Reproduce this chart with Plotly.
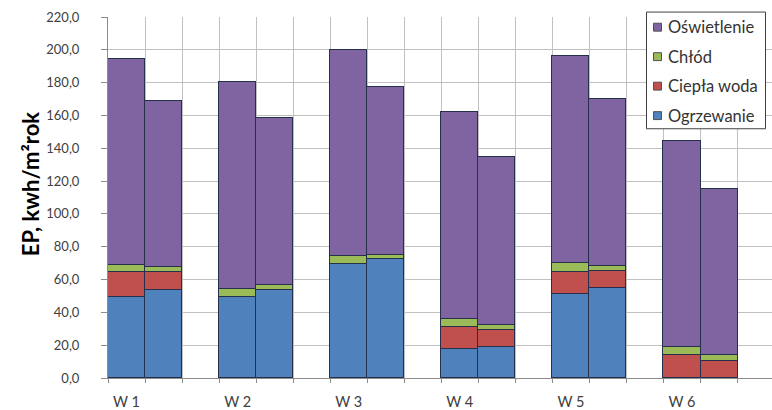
import plotly.graph_objects as go

# Energy demand per variant: two bars per variant (a, b)
groups = ["W 1", "W 2", "W 3", "W 4", "W 5", "W 6"]

ogrzewanie_a = [49.6, 49.4, 69.2, 17.4, 51.1, 0.0]
ogrzewanie_b = [53.5, 53.5, 72.3, 18.8, 54.8, 0.0]
ciepla_woda_a = [14.7, 0.0, 0.0, 13.8, 13.8, 13.8]
ciepla_woda_b = [10.8, 0.0, 0.0, 10.6, 10.7, 10.4]
chlod_a = [4.5, 5.0, 5.0, 5.0, 5.1, 5.0]
chlod_b = [3.3, 3.3, 2.8, 3.0, 2.7, 3.4]
oswietlenie_a = [125.8, 125.8, 125.8, 126.1, 126.2, 125.9]
oswietlenie_b = [101.5, 101.8, 102.3, 102.1, 102.1, 101.5]

series = [
    ("Ogrzewanie", ogrzewanie_a, ogrzewanie_b, "#4F81BD"),
    ("Ciepła woda", ciepla_woda_a, ciepla_woda_b, "#C0504D"),
    ("Chłód", chlod_a, chlod_b, "#9BBB59"),
    ("Oświetlenie", oswietlenie_a, oswietlenie_b, "#8064A2"),
]

# figure geometry (pixels)
W, H = 772, 410
ML, MR, MT, MB = 108, 0, 17, 28
PW, PH = W - ML - MR, H - MT - MB


def px_x(px):
    return (px - ML) / PW


def px_y(py):
    return (H - MB - py) / PH


# slot layout: two adjacent bars per group, one empty slot between groups
n = len(groups)
x_pos = []
for g in range(n):
    x_pos += [3 * g, 3 * g + 1]
label_pos = [3 * g for g in range(n)]

FONT = "Lato, 'Open Sans', sans-serif"

fig = go.Figure()
for name, a, b, color in series:
    vals = []
    for va, vb in zip(a, b):
        vals += [va, vb]
    fig.add_trace(go.Bar(
        x=x_pos, y=vals, name=name, width=1.0, showlegend=False,
        marker=dict(color=color, line=dict(color="#26304a", width=1)),
    ))

# boxed legend, top entry = top of the stack
shapes = [dict(
    type="rect", xref="paper", yref="paper",
    x0=px_x(646.5), x1=px_x(765.5), y0=px_y(130), y1=px_y(12),
    fillcolor="white", line=dict(color="#404040", width=1), layer="above",
)]
annotations = []
for k, (name, _a, _b, color) in enumerate(reversed(series)):
    cy = 27.3 + 29.8 * k
    shapes.append(dict(
        type="rect", xref="paper", yref="paper",
        x0=px_x(653.5), x1=px_x(661.5), y0=px_y(cy + 4), y1=px_y(cy - 4),
        fillcolor=color, line=dict(color="#505050", width=1), layer="above",
    ))
    annotations.append(dict(
        text=name, xref="paper", yref="paper", x=px_x(666), y=px_y(cy),
        xanchor="left", yanchor="middle", showarrow=False,
        font=dict(family=FONT, size=16.5, color="#333333"),
    ))

annotations.append(dict(
    text="<b>EP, kwh/m²rok</b>", textangle=-90,
    xref="paper", yref="paper", x=px_x(30), y=px_y(186),
    xanchor="center", yanchor="middle", showarrow=False,
    font=dict(family=FONT, size=22, color="black"),
))

fig.update_layout(
    width=W, height=H,
    margin=dict(l=ML, r=MR, t=MT, b=MB),
    paper_bgcolor="white", plot_bgcolor="white",
    barmode="stack", bargap=0,
    separators=", ",
    font=dict(family=FONT, size=13, color="#404040"),
    showlegend=False,
    xaxis=dict(
        range=[-0.5, 17.43],
        tickmode="array", tickvals=label_pos, ticktext=groups,
        ticks="", showgrid=False, zeroline=False,
        showline=True, linecolor="#8c8c8c", linewidth=1,
        ticklabelstandoff=11,
        tickfont=dict(family=FONT, size=14.5, color="#404040"),
        minor=dict(tick0=-0.5, dtick=1, showgrid=True, gridcolor="#c0c0c0",
                   gridwidth=1, ticks="outside", ticklen=4, tickcolor="#8c8c8c"),
    ),
    yaxis=dict(
        range=[0, 220], tick0=0, dtick=20, tickformat=".1f",
        showgrid=True, gridcolor="#c0c0c0", gridwidth=1, zeroline=False,
        showline=True, linecolor="#8c8c8c", linewidth=1,
        ticks="outside", ticklen=6, tickcolor="#8c8c8c",
        ticklabelstandoff=19,
        tickfont=dict(family=FONT, size=13, color="#404040"),
    ),
    shapes=shapes,
    annotations=annotations,
)

fig.write_html("out.html")
